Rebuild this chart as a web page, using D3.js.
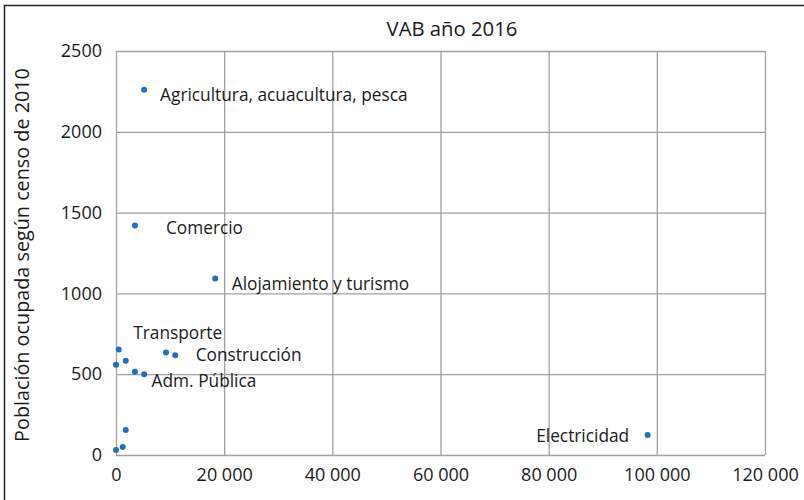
<!DOCTYPE html>
<html>
<head>
<meta charset="utf-8">
<script src="https://cdn.jsdelivr.net/npm/d3@7"></script>
<style>
  body { margin: 0; background: #fff; }
  text { font-family: "Open Sans", sans-serif; fill: #1a1a1a; }
</style>
</head>
<body>
<svg id="chart" width="804" height="500"></svg>
<script>
// ---- Data ----
const sectors = ["Agricultura, acuacultura, pesca", "Comercio", "Alojamiento y turismo", "Electricidad",
  "", "Transporte", "", "", "Adm. Pública", "", "Construcción", "", "", ""];
const vab = [5200, 3500, 18350, 98300, 0, 500, 1800, 3500, 5200, 9250, 10950, 1800, 1250, 0];
const ocupada = [2260, 1420, 1092, 124, 558, 653, 583, 515, 499, 635, 618, 155, 49, 31];
const xTicks = [0, 20000, 40000, 60000, 80000, 100000, 120000];
const yTicks = [0, 500, 1000, 1500, 2000, 2500];
const title = "VAB año 2016";
const yTitle = "Población ocupada según censo de 2010";

// label placement offsets (layout only)
const labelLayout = {
  "Agricultura, acuacultura, pesca": {dx: 16, dy: 11, anchor: "start"},
  "Comercio": {dx: 31, dy: 8, anchor: "start"},
  "Alojamiento y turismo": {dx: 16.5, dy: 11, anchor: "start"},
  "Electricidad": {dx: -18.5, dy: 7, anchor: "end"},
  "Transporte": {dx: 14.5, dy: -10, anchor: "start"},
  "Adm. Pública": {dx: 7.5, dy: 13, anchor: "start"},
  "Construcción": {dx: 20.5, dy: 6, anchor: "start"}
};

const W = 804, H = 500;
const margin = {top: 51, right: 39, bottom: 45, left: 116};
const iw = W - margin.left - margin.right, ih = H - margin.top - margin.bottom;

const svg = d3.select("#chart");

// frame (top & left only visible)
svg.append("line").attr("x1", 4.5).attr("x2", 4.5).attr("y1", 5).attr("y2", H)
  .attr("stroke", "#222").attr("stroke-width", 1.5);
svg.append("line").attr("x1", 4).attr("x2", W).attr("y1", 5.5).attr("y2", 5.5)
  .attr("stroke", "#222").attr("stroke-width", 1.5);

const g = svg.append("g").attr("transform", `translate(${margin.left},${margin.top})`);

const x = d3.scaleLinear().domain([0, 120000]).range([0, iw]);
const y = d3.scaleLinear().domain([0, 2500]).range([ih, 0]);

const loc = d3.formatLocale({decimal: ",", thousands: " ", grouping: [3], currency: ["", ""]});
const fx = loc.format(",d");

const xAxis = g.append("g").attr("transform", `translate(0,${ih})`)
  .call(d3.axisBottom(x).tickValues(xTicks).tickFormat(fx).tickSizeInner(-ih).tickSizeOuter(0).tickPadding(13.5));
const yAxis = g.append("g")
  .call(d3.axisLeft(y).tickValues(yTicks).tickFormat(d3.format("d")).tickSizeInner(-iw).tickSizeOuter(0).tickPadding(14));

[xAxis, yAxis].forEach(a => {
  a.select(".domain").remove();
  a.selectAll(".tick line").attr("stroke", "#a0a0a0").attr("stroke-width", 1.3);
  a.selectAll(".tick text").attr("font-size", "18px").attr("fill", "#1a1a1a")
    .style("font-family", '"Open Sans", sans-serif');
});

// points
const pts = vab.map((v, i) => ({x: v, y: ocupada[i], name: sectors[i]}));
g.selectAll("circle.pt").data(pts).enter().append("circle")
  .attr("class", "pt")
  .attr("cx", d => x(d.x)).attr("cy", d => y(d.y)).attr("r", 3)
  .attr("fill", "#1f70c1");

// labels
g.selectAll("text.lbl").data(pts.filter(d => d.name)).enter().append("text")
  .attr("class", "lbl")
  .attr("x", d => x(d.x) + labelLayout[d.name].dx)
  .attr("y", d => y(d.y) + labelLayout[d.name].dy)
  .attr("text-anchor", d => labelLayout[d.name].anchor)
  .attr("font-size", "17.3px")
  .text(d => d.name);

// title
svg.append("text").attr("x", 452).attr("y", 36).attr("text-anchor", "middle")
  .attr("font-size", "20.3px").text(title);

// y title
svg.append("text").attr("transform", "translate(28.5,255) rotate(-90)")
  .attr("text-anchor", "middle").attr("font-size", "19.8px").text(yTitle);
</script>
</body>
</html>
